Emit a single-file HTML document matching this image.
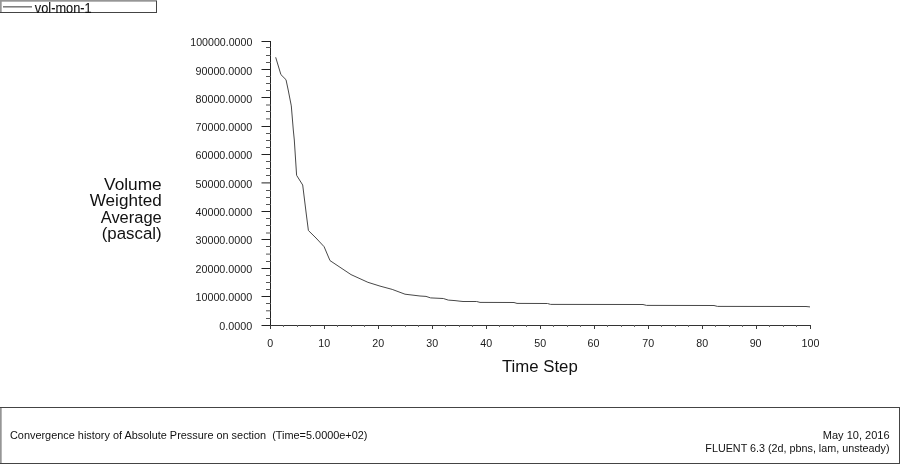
<!DOCTYPE html>
<html lang="en"><head><meta charset="utf-8"><title>Convergence history of Absolute Pressure on section</title>
<style>
html,body{margin:0;padding:0;background:#fff;}
body{width:900px;height:464px;overflow:hidden;position:relative;font-family:"Liberation Sans",Arial,sans-serif;}
svg{position:absolute;left:0;top:0;display:block;}
text{font-family:"Liberation Sans",Arial,sans-serif;fill:#222;white-space:pre;}
.tick{font-size:11.5px;fill:#1c1c1c;}
.ylab{font-size:17px;fill:#111;}
.xlab{font-size:16.8px;fill:#111;}
.foot{font-size:11px;fill:#111;}
.leg{font-size:14.4px;fill:#111;stroke:#111;stroke-width:0.12px;}
</style></head><body>
<svg width="900" height="464" viewBox="0 0 900 464">
<rect x="0" y="0" width="900" height="464" fill="#fff"/>

<g shape-rendering="crispEdges" fill="none" stroke="#333" stroke-width="1">
<rect x="0" y="0" width="157" height="1.7" fill="#969696" stroke="none" shape-rendering="auto"/>
<rect x="0" y="0" width="1.7" height="13" fill="#969696" stroke="none" shape-rendering="auto"/>
<line x1="0" y1="12.5" x2="157" y2="12.5" stroke="#444"/>
<line x1="156.5" y1="1" x2="156.5" y2="13" stroke="#444"/>
<rect x="3" y="6.05" width="29" height="1.5" fill="#787878" stroke="none" shape-rendering="auto"/>
<rect x="0" y="407" width="1.7" height="57" fill="#969696" stroke="none" shape-rendering="auto"/>
<line x1="0" y1="407.5" x2="900" y2="407.5" stroke="#444"/>
<line x1="899.5" y1="407" x2="899.5" y2="464" stroke="#444"/>
<line x1="0" y1="463.5" x2="900" y2="463.5" stroke="#444"/>
<line x1="270.5" y1="41" x2="270.5" y2="329" stroke="#222"/>
<line x1="262" y1="325.5" x2="811" y2="325.5" stroke="#333"/>
<rect x="261.5" y="41.0" width="9.5" height="1" fill="#222" stroke="none" shape-rendering="auto"/>
<rect x="266" y="47.0" width="5" height="1" fill="#555" stroke="none" shape-rendering="auto"/>
<rect x="266" y="55.0" width="5" height="1" fill="#555" stroke="none" shape-rendering="auto"/>
<rect x="266" y="62.0" width="5" height="1" fill="#555" stroke="none" shape-rendering="auto"/>
<rect x="261.5" y="69.0" width="9.5" height="1" fill="#222" stroke="none" shape-rendering="auto"/>
<rect x="266" y="76.0" width="5" height="1" fill="#555" stroke="none" shape-rendering="auto"/>
<rect x="266" y="83.0" width="5" height="1" fill="#555" stroke="none" shape-rendering="auto"/>
<rect x="266" y="90.0" width="5" height="1" fill="#555" stroke="none" shape-rendering="auto"/>
<rect x="261.5" y="97.0" width="9.5" height="1" fill="#222" stroke="none" shape-rendering="auto"/>
<rect x="266" y="104.5" width="5" height="1" fill="#555" stroke="none" shape-rendering="auto"/>
<rect x="266" y="111.0" width="5" height="1" fill="#555" stroke="none" shape-rendering="auto"/>
<rect x="266" y="118.4" width="5" height="1" fill="#555" stroke="none" shape-rendering="auto"/>
<rect x="261.5" y="126.0" width="9.5" height="1" fill="#222" stroke="none" shape-rendering="auto"/>
<rect x="266" y="133.0" width="5" height="1" fill="#555" stroke="none" shape-rendering="auto"/>
<rect x="266" y="140.0" width="5" height="1" fill="#555" stroke="none" shape-rendering="auto"/>
<rect x="266" y="147.0" width="5" height="1" fill="#555" stroke="none" shape-rendering="auto"/>
<rect x="261.5" y="154.0" width="9.5" height="1" fill="#222" stroke="none" shape-rendering="auto"/>
<rect x="266" y="161.0" width="5" height="1" fill="#555" stroke="none" shape-rendering="auto"/>
<rect x="266" y="168.0" width="5" height="1" fill="#555" stroke="none" shape-rendering="auto"/>
<rect x="266" y="175.0" width="5" height="1" fill="#555" stroke="none" shape-rendering="auto"/>
<rect x="261.5" y="182.4" width="9.5" height="1" fill="#222" stroke="none" shape-rendering="auto"/>
<rect x="266" y="190.0" width="5" height="1" fill="#555" stroke="none" shape-rendering="auto"/>
<rect x="266" y="197.0" width="5" height="1" fill="#555" stroke="none" shape-rendering="auto"/>
<rect x="266" y="204.0" width="5" height="1" fill="#555" stroke="none" shape-rendering="auto"/>
<rect x="261.5" y="211.0" width="9.5" height="1" fill="#222" stroke="none" shape-rendering="auto"/>
<rect x="266" y="218.0" width="5" height="1" fill="#555" stroke="none" shape-rendering="auto"/>
<rect x="266" y="225.0" width="5" height="1" fill="#555" stroke="none" shape-rendering="auto"/>
<rect x="266" y="232.5" width="5" height="1" fill="#555" stroke="none" shape-rendering="auto"/>
<rect x="261.5" y="239.0" width="9.5" height="1" fill="#222" stroke="none" shape-rendering="auto"/>
<rect x="266" y="246.0" width="5" height="1" fill="#555" stroke="none" shape-rendering="auto"/>
<rect x="266" y="253.6" width="5" height="1" fill="#555" stroke="none" shape-rendering="auto"/>
<rect x="266" y="261.0" width="5" height="1" fill="#555" stroke="none" shape-rendering="auto"/>
<rect x="261.5" y="268.0" width="9.5" height="1" fill="#222" stroke="none" shape-rendering="auto"/>
<rect x="266" y="275.0" width="5" height="1" fill="#555" stroke="none" shape-rendering="auto"/>
<rect x="266" y="282.0" width="5" height="1" fill="#555" stroke="none" shape-rendering="auto"/>
<rect x="266" y="289.0" width="5" height="1" fill="#555" stroke="none" shape-rendering="auto"/>
<rect x="261.5" y="296.0" width="9.5" height="1" fill="#222" stroke="none" shape-rendering="auto"/>
<rect x="266" y="303.0" width="5" height="1" fill="#555" stroke="none" shape-rendering="auto"/>
<rect x="266" y="310.3" width="5" height="1" fill="#555" stroke="none" shape-rendering="auto"/>
<rect x="266" y="318.0" width="5" height="1" fill="#555" stroke="none" shape-rendering="auto"/>
<rect x="261.5" y="325.0" width="9.5" height="1" fill="#222" stroke="none" shape-rendering="auto"/>
<line x1="270.5" y1="325" x2="270.5" y2="329" stroke="#3a3a3a"/>
<line x1="283.5" y1="325" x2="283.5" y2="327" stroke="#666"/>
<line x1="297.5" y1="325" x2="297.5" y2="327" stroke="#666"/>
<line x1="310.5" y1="325" x2="310.5" y2="327" stroke="#666"/>
<line x1="324.5" y1="325" x2="324.5" y2="329" stroke="#3a3a3a"/>
<line x1="337.5" y1="325" x2="337.5" y2="327" stroke="#666"/>
<line x1="351.5" y1="325" x2="351.5" y2="327" stroke="#666"/>
<line x1="364.5" y1="325" x2="364.5" y2="327" stroke="#666"/>
<line x1="378.5" y1="325" x2="378.5" y2="329" stroke="#3a3a3a"/>
<line x1="391.5" y1="325" x2="391.5" y2="327" stroke="#666"/>
<line x1="405.5" y1="325" x2="405.5" y2="327" stroke="#666"/>
<line x1="418.5" y1="325" x2="418.5" y2="327" stroke="#666"/>
<line x1="432.5" y1="325" x2="432.5" y2="329" stroke="#3a3a3a"/>
<line x1="445.5" y1="325" x2="445.5" y2="327" stroke="#666"/>
<line x1="459.5" y1="325" x2="459.5" y2="327" stroke="#666"/>
<line x1="472.5" y1="325" x2="472.5" y2="327" stroke="#666"/>
<line x1="486.5" y1="325" x2="486.5" y2="329" stroke="#3a3a3a"/>
<line x1="499.5" y1="325" x2="499.5" y2="327" stroke="#666"/>
<line x1="513.5" y1="325" x2="513.5" y2="327" stroke="#666"/>
<line x1="526.5" y1="325" x2="526.5" y2="327" stroke="#666"/>
<line x1="540.5" y1="325" x2="540.5" y2="329" stroke="#3a3a3a"/>
<line x1="553.5" y1="325" x2="553.5" y2="327" stroke="#666"/>
<line x1="567.5" y1="325" x2="567.5" y2="327" stroke="#666"/>
<line x1="580.5" y1="325" x2="580.5" y2="327" stroke="#666"/>
<line x1="594.5" y1="325" x2="594.5" y2="329" stroke="#3a3a3a"/>
<line x1="607.5" y1="325" x2="607.5" y2="327" stroke="#666"/>
<line x1="621.5" y1="325" x2="621.5" y2="327" stroke="#666"/>
<line x1="634.5" y1="325" x2="634.5" y2="327" stroke="#666"/>
<line x1="648.5" y1="325" x2="648.5" y2="329" stroke="#3a3a3a"/>
<line x1="661.5" y1="325" x2="661.5" y2="327" stroke="#666"/>
<line x1="675.5" y1="325" x2="675.5" y2="327" stroke="#666"/>
<line x1="688.5" y1="325" x2="688.5" y2="327" stroke="#666"/>
<line x1="702.5" y1="325" x2="702.5" y2="329" stroke="#3a3a3a"/>
<line x1="715.5" y1="325" x2="715.5" y2="327" stroke="#666"/>
<line x1="729.5" y1="325" x2="729.5" y2="327" stroke="#666"/>
<line x1="742.5" y1="325" x2="742.5" y2="327" stroke="#666"/>
<line x1="756.5" y1="325" x2="756.5" y2="329" stroke="#3a3a3a"/>
<line x1="769.5" y1="325" x2="769.5" y2="327" stroke="#666"/>
<line x1="783.5" y1="325" x2="783.5" y2="327" stroke="#666"/>
<line x1="796.5" y1="325" x2="796.5" y2="327" stroke="#666"/>
<line x1="810.5" y1="325" x2="810.5" y2="329" stroke="#3a3a3a"/>
</g>
<path d="M275.7,57.3 L280.9,74.6 L286.0,79.7 L288.2,90.0 L291.3,105.9 L293.3,130.0 L294.3,140.0 L296.6,175.3 L302.7,185.0 L306.4,215.0 L308.4,230.5 L316.0,238.0 L324.1,246.7 L330.0,260.6 L351.0,274.6 L367.9,282.3 L380.0,286.1 L392.2,289.4 L405.0,294.2 L420.0,296.0 L426.0,296.4 L430.6,297.9 L443.3,298.5 L448.3,300.1 L455.0,300.6 L460.0,301.2 L463.0,301.5 L476.7,301.5 L480.0,302.4 L514.0,302.5 L517.0,303.4 L547.5,303.5 L550.6,304.4 L643.0,304.5 L646.5,305.4 L714.0,305.5 L717.5,306.4 L806.0,306.5 L810.0,306.9" fill="none" stroke="#484848" stroke-width="1" stroke-linejoin="round"/>
<text class="tick" transform="translate(252.30,329.65) scale(0.938,1)" text-anchor="end">0.0000</text>
<text class="tick" transform="translate(252.30,301.25) scale(0.938,1)" text-anchor="end">10000.0000</text>
<text class="tick" transform="translate(252.30,272.85) scale(0.938,1)" text-anchor="end">20000.0000</text>
<text class="tick" transform="translate(252.30,244.45) scale(0.938,1)" text-anchor="end">30000.0000</text>
<text class="tick" transform="translate(252.30,216.05) scale(0.938,1)" text-anchor="end">40000.0000</text>
<text class="tick" transform="translate(252.30,187.65) scale(0.938,1)" text-anchor="end">50000.0000</text>
<text class="tick" transform="translate(252.30,159.25) scale(0.938,1)" text-anchor="end">60000.0000</text>
<text class="tick" transform="translate(252.30,130.85) scale(0.938,1)" text-anchor="end">70000.0000</text>
<text class="tick" transform="translate(252.30,102.75) scale(0.938,1)" text-anchor="end">80000.0000</text>
<text class="tick" transform="translate(252.30,74.65) scale(0.938,1)" text-anchor="end">90000.0000</text>
<text class="tick" transform="translate(252.30,45.65) scale(0.925,1)" text-anchor="end">100000.0000</text>
<text class="tick" transform="translate(270.20,347.40) scale(0.93,1)" text-anchor="middle">0</text>
<text class="tick" transform="translate(324.20,347.40) scale(0.93,1)" text-anchor="middle">10</text>
<text class="tick" transform="translate(378.20,347.40) scale(0.93,1)" text-anchor="middle">20</text>
<text class="tick" transform="translate(432.20,347.40) scale(0.93,1)" text-anchor="middle">30</text>
<text class="tick" transform="translate(486.20,347.40) scale(0.93,1)" text-anchor="middle">40</text>
<text class="tick" transform="translate(540.20,347.40) scale(0.93,1)" text-anchor="middle">50</text>
<text class="tick" transform="translate(593.50,347.40) scale(0.93,1)" text-anchor="middle">60</text>
<text class="tick" transform="translate(648.20,347.40) scale(0.93,1)" text-anchor="middle">70</text>
<text class="tick" transform="translate(702.20,347.40) scale(0.93,1)" text-anchor="middle">80</text>
<text class="tick" transform="translate(755.60,347.40) scale(0.93,1)" text-anchor="middle">90</text>
<text class="tick" transform="translate(810.40,347.40) scale(0.93,1)" text-anchor="middle">100</text>
<text class="ylab" transform="translate(161.70,189.75) scale(1.017,1)" text-anchor="end">Volume</text>
<text class="ylab" transform="translate(161.70,206.30) scale(1.007,1)" text-anchor="end">Weighted</text>
<text class="ylab" transform="translate(161.70,223.20) scale(0.969,1)" text-anchor="end">Average</text>
<text class="ylab" transform="translate(161.70,239.10) scale(0.992,1)" text-anchor="end">(pascal)</text>
<text class="xlab" transform="translate(539.80,372.10) scale(1.0,1)" text-anchor="middle">Time Step</text>
<clipPath id="lc"><rect x="0" y="0" width="157" height="13"/></clipPath>
<g clip-path="url(#lc)"><text class="leg" transform="translate(34.80,12.70) scale(0.888,1)">vol-mon-1</text></g>
<text class="foot" transform="translate(10.00,439.00) scale(0.992,1)">Convergence history of Absolute Pressure on section  (Time=5.0000e+02)</text>
<text class="foot" transform="translate(889.50,438.70) scale(1.0,1)" text-anchor="end">May 10, 2016</text>
<text class="foot" transform="translate(889.50,452.10) scale(0.981,1)" text-anchor="end">FLUENT 6.3 (2d, pbns, lam, unsteady)</text>
</svg>
</body></html>
